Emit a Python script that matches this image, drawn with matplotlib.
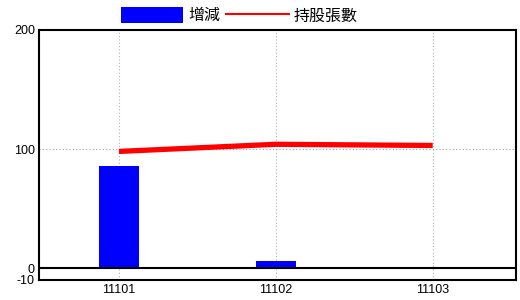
import matplotlib.pyplot as plt
from matplotlib.patches import Patch
from matplotlib.lines import Line2D

# data
periods = ["11101", "11102", "11103"]
change = [86, 6, 0]
holdings = [98, 104, 103]

plt.rcParams['font.family'] = ['Noto Sans CJK TC', 'DejaVu Sans']

fig = plt.figure(figsize=(5.2, 3), dpi=100)
ax = fig.add_axes([0.075, 0.0667, 0.917, 0.8333])

x = list(range(len(periods)))
ax.bar(x, change, width=0.255, color="#0000ff", zorder=2)
ax.plot(x, holdings, color="#ff0000", linewidth=3.8, zorder=3, solid_capstyle="butt")
ax.axhline(0, color="black", linewidth=1.5, zorder=4)

ax.set_xlim(-0.51, 2.53)
ax.set_ylim(-10, 200)
ax.set_xticks(x)
ax.set_xticklabels(periods, family="Liberation Sans", fontsize=9)
ax.set_yticks([-10, 0, 100, 200])
ax.set_yticklabels(["-10", "0", "100", "200"], family="Liberation Sans", fontsize=9)
ax.tick_params(length=0, pad=3)

for xi in x:
    ax.axvline(xi, color="#a8b4c0", linestyle=(0, (1, 2)), linewidth=0.8, zorder=1)
ax.axhline(100, color="#a0a0a0", linestyle=(0, (1, 2)), linewidth=0.8, zorder=1)

for s in ax.spines.values():
    s.set_linewidth(1.5)

handles = [Patch(facecolor="#0000ff", edgecolor="none"),
           Line2D([], [], color="#ff0000", linewidth=1.5)]
fig.legend(handles, ["增減", "持股張數"], loc="center", bbox_to_anchor=(0.46, 0.947),
           ncol=2, frameon=False, fontsize=11.5, handlelength=3.9, handleheight=1.1,
           handletextpad=0.3, columnspacing=0.4, borderpad=0)

fig.savefig("out.png", dpi=100)
